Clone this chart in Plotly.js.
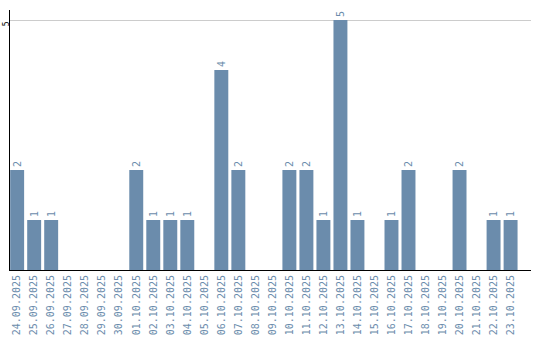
<!DOCTYPE html>
<html>
<head>
<meta charset="utf-8">
<script src="https://cdn.plot.ly/plotly-3.0.1.min.js"></script>
<style>html,body{margin:0;padding:0;background:#fff;}#chart{width:540px;height:340px;}</style>
</head>
<body>
<div id="chart"></div>
<script>
const dates = ["24.09.2025","25.09.2025","26.09.2025","27.09.2025","28.09.2025","29.09.2025","30.09.2025","01.10.2025","02.10.2025","03.10.2025","04.10.2025","05.10.2025","06.10.2025","07.10.2025","08.10.2025","09.10.2025","10.10.2025","11.10.2025","12.10.2025","13.10.2025","14.10.2025","15.10.2025","16.10.2025","17.10.2025","18.10.2025","19.10.2025","20.10.2025","21.10.2025","22.10.2025","23.10.2025"];
const counts = [2,1,1,0,0,0,0,2,1,1,1,0,4,2,0,0,2,2,1,5,1,0,1,2,0,0,2,0,1,1];
const yTicks = [5];

const barColor = '#6b8cac';
const labels = counts.map(v => v > 0 ? String(v) : '');

Plotly.newPlot('chart', [{
  type: 'bar',
  x: dates,
  y: counts,
  text: labels,
  textposition: 'outside',
  textangle: -90,
  cliponaxis: false,
  textfont: {family: 'DejaVu Sans Mono', size: 10, color: barColor},
  marker: {color: barColor},
  hoverinfo: 'none'
}], {
  width: 540, height: 340,
  margin: {l: 10, r: 9, t: 10, b: 70},
  paper_bgcolor: '#fff', plot_bgcolor: '#fff',
  bargap: 0.18,
  showlegend: false,
  xaxis: {
    type: 'category',
    range: [-0.42, 30.2],
    tickangle: -90,
    tickfont: {family: 'DejaVu Sans Mono', size: 10, color: barColor},
    showline: true, linecolor: '#000', linewidth: 1,
    showgrid: false, ticks: '', zeroline: false
  },
  yaxis: {
    range: [0, 5.2],
    tickvals: yTicks,
    ticktext: yTicks.map(String),
    tickangle: -90,
    tickfont: {family: 'DejaVu Sans Mono', size: 8, color: '#000'},
    showline: true, linecolor: '#000', linewidth: 1,
    showgrid: true, gridcolor: '#cccccc', gridwidth: 1,
    zeroline: false, ticks: '', ticklabelstandoff: -3, ticklabelshift: 5
  }
}, {staticPlot: true});
</script>
</body>
</html>
